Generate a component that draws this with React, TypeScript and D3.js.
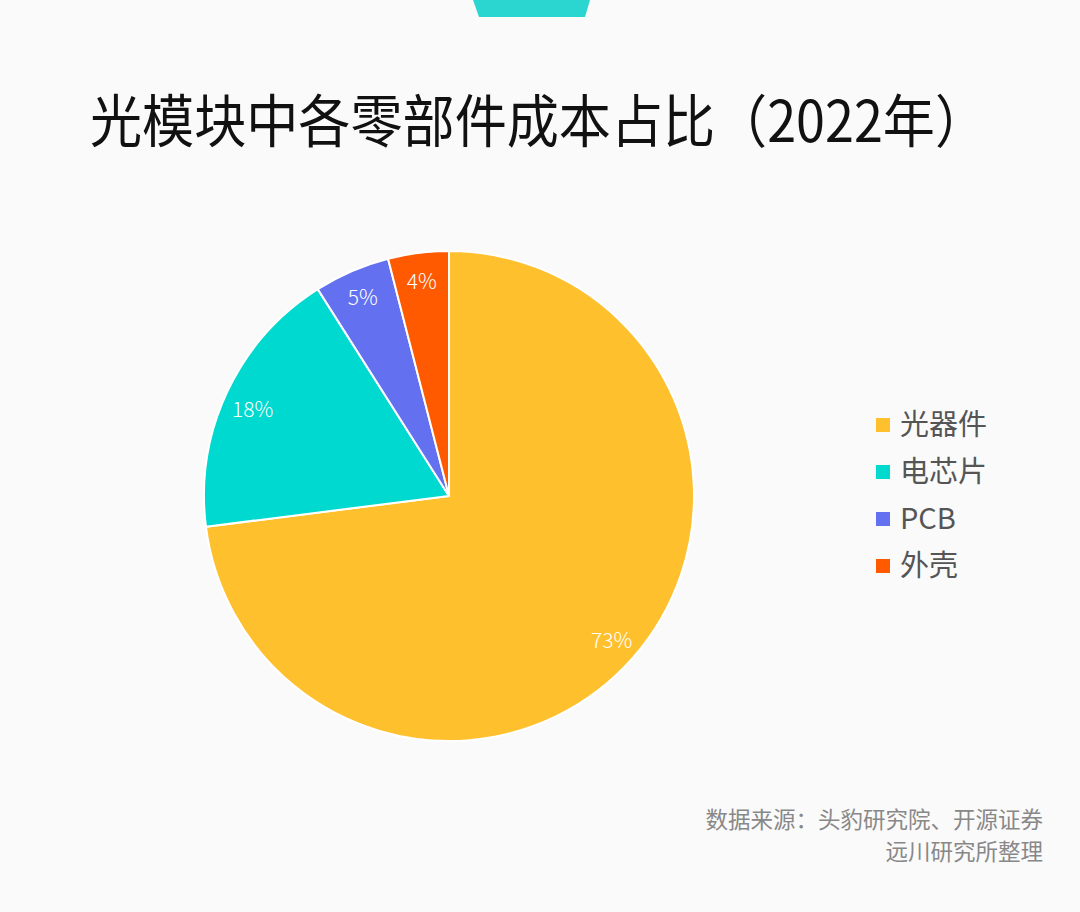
import React from "react";
import * as d3 from "d3";

const categories = ["光器件", "电芯片", "PCB", "外壳"];
const values = [73, 18, 5, 4];
const colors = ["#FFC02D", "#00D9D0", "#6370F0", "#FF5A00"];
const title = "光模块中各零部件成本占比（2022年）";
const sourceLines = ["数据来源：头豹研究院、开源证券", "远川研究所整理"];

export default function App() {
  const W = 1080, H = 912;
  const cx = 449, cy = 496, R = 245;
  const pie = d3.pie<number>().sort(null).value((d) => d)(values);
  const arc = d3.arc<d3.PieArcDatum<number>>().innerRadius(0).outerRadius(R);
  const labelArc = d3.arc<d3.PieArcDatum<number>>().innerRadius(217).outerRadius(217);
  const font = "'Noto Sans CJK SC', 'Noto Sans', sans-serif";
  return (
    <svg width={W} height={H} style={{ position: "absolute", left: 0, top: 0, background: "#FAFAFA" }}>
      <rect width={W} height={H} fill="#FAFAFA" />
      <path d="M473,0 L590,0 L585,17 L479,17 Z" fill="#2AD6CF" />
      <text x={90} y={142} fontFamily={font} fontSize={57} fill="#111" textLength={897} lengthAdjust="spacingAndGlyphs">{title}</text>
      <g transform={`translate(${cx},${cy})`}>
        {pie.map((p, i) => (
          <path key={i} d={arc(p) || ""} fill={colors[i]} stroke="#fff" strokeWidth={2} strokeLinejoin="round" />
        ))}
        {pie.map((p, i) => {
          const [x, y] = labelArc.centroid(p);
          return (
            <text key={"l" + i} x={x} y={y + (i === 1 ? 6 : 1)} dy="0.36em" textAnchor="middle" fontFamily={font} fontWeight={300} fontSize={21} fill="#fff">
              {values[i]}%
            </text>
          );
        })}
      </g>
      {categories.map((c, i) => (
        <g key={c} transform={`translate(876,${425 + i * 47})`}>
          <rect x={0} y={-7} width={14} height={14} fill={colors[i]} />
          <text x={24} y={0} dy="0.36em" fontFamily={font} fontSize={29} fill="#555">{c}</text>
        </g>
      ))}
      {sourceLines.map((s, i) => (
        <text key={i} x={1043} y={820 + i * 32} dy="0.36em" textAnchor="end" fontFamily={font} fontSize={22.5} fill="#888">{s}</text>
      ))}
    </svg>
  );
}
